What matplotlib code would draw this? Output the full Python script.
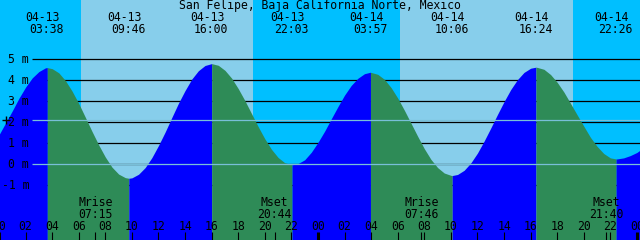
import matplotlib
matplotlib.use("Agg")
import matplotlib.pyplot as plt
import numpy as np

# marée San Felipe, 13-14 avril : hauteur (m) relevée toutes les 30 min
# depuis 04-13 00:00
heures = list(np.arange(0, 49, 0.5))
hauteurs = [1.41, 1.98, 2.55, 3.15, 3.68, 4.12, 4.42, 4.60, 4.56, 4.36,
            3.99, 3.49, 2.90, 2.24, 1.57, 0.93, 0.35, -0.13, -0.46, -0.63,
            -0.64, -0.47, -0.15, 0.32, 0.90, 1.54, 2.23, 2.91, 3.52, 4.06,
            4.46, 4.71, 4.80, 4.72, 4.48, 4.11, 3.61, 3.04, 2.42, 1.80,
            1.22, 0.72, 0.33, 0.08, -0.01, 0.04, 0.22, 0.58, 1.05, 1.58,
            2.17, 2.75, 3.30, 3.76, 4.10, 4.32, 4.38, 4.29, 4.05, 3.66,
            3.16, 2.58, 1.96, 1.34, 0.75, 0.24, -0.15, -0.41, -0.52, -0.48,
            -0.28, 0.07, 0.54, 1.11, 1.73, 2.37, 2.99, 3.56, 4.03, 4.38,
            4.58, 4.62, 4.53, 4.28, 3.91, 3.45, 2.91, 2.36, 1.82, 1.29,
            0.86, 0.52, 0.31, 0.26, 0.31, 0.42, 0.57, 0.80]

# pleines et basses mers
ext_t = [3.633, 9.767, 16.0, 22.05, 27.95, 34.1, 40.4, 46.433]
ext_h = [4.61, -0.66, 4.80, -0.02, 4.39, -0.53, 4.63, 0.26]
ext_dates = ["04-13", "04-13", "04-13", "04-13", "04-14", "04-14", "04-14", "04-14"]
ext_heures = ["03:38", "09:46", "16:00", "22:03", "03:57", "10:06", "16:24", "22:26"]

# lune
lune_t = [7.25, 20.733, 31.767, 45.667]
lune_nom = ["Mrise", "Mset", "Mrise", "Mset"]
lune_heures = ["07:15", "20:44", "07:46", "21:40"]

# lever / coucher du soleil
soleil = [6.167, 19.117, 30.183, 43.183]

niveau_moyen = 2.1
titre = "San Felipe, Baja California Norte, Mexico"

NUIT = "#00BFFF"
JOUR = "#87CEEB"
MONTE = "#0000FF"
DESCEND = "#2E8B57"
CLAIR = "#79bfd8"

x0, x1 = 0.075, 48.23
y0, y1 = -3.6, 7.83

fig = plt.figure(figsize=(6.4, 2.4), dpi=100)
ax = fig.add_axes([0, 0, 1, 1])
ax.set_xlim(x0, x1)
ax.set_ylim(y0, y1)
ax.axis("off")

# fond jour / nuit
bornes = [x0] + soleil + [x1]
for i in range(len(bornes) - 1):
    ax.axvspan(bornes[i], bornes[i + 1], color=NUIT if i % 2 == 0 else JOUR,
               lw=0, zorder=0)

# lignes des metres
ytr = ax.get_yaxis_transform()
for m in range(-1, 6):
    ax.hlines(m, 32 / 640, 1, transform=ytr, color="black", lw=0.9, zorder=1)
    ax.text(29 / 640, m - 0.19, "%d m" % m, transform=ytr, ha="right",
            va="baseline", family="DejaVu Sans Mono", fontsize=8.3, zorder=5)

# courbe de marée : on fusionne les relevés et les extrêmes
t_all = np.array(heures + ext_t, dtype=float)
h_all = np.array(hauteurs + ext_h, dtype=float)
t_all, idx = np.unique(t_all, return_index=True)
h_all = h_all[idx]

coupes = [0] + [int(np.where(t_all == t)[0][0]) for t in ext_t] + [len(t_all) - 1]
for a, b in zip(coupes[:-1], coupes[1:]):
    ts = t_all[a:b + 1]
    hs = h_all[a:b + 1]
    c = MONTE if hs[-1] > hs[0] else DESCEND
    ax.fill_between(ts, hs, y0, color=c, lw=0, antialiased=False, zorder=2)

# niveau zéro et niveau moyen
ax.hlines([0, niveau_moyen], 32 / 640, 1, transform=ytr, color=CLAIR, lw=0.9, zorder=3)
ax.plot([6 / 640], [niveau_moyen], transform=ytr, marker="+", ms=6, mew=1.0,
        color="black", clip_on=False, zorder=6)

xtr = ax.get_xaxis_transform()
police = dict(family="DejaVu Sans Mono", fontsize=8.3, zorder=5)

ax.text(0.5, 1 - 9 / 240, titre, transform=ax.transAxes, ha="center",
        va="baseline", **police)

for t, d, h in zip(ext_t, ext_dates, ext_heures):
    ax.annotate(d, (t, 1 - 20.7 / 240), xycoords=xtr, xytext=(-4.5, 0),
                textcoords="offset pixels", ha="center", va="baseline", **police)
    ax.annotate(h, (t, 1 - 33.3 / 240), xycoords=xtr, xytext=(-0.5, 0),
                textcoords="offset pixels", ha="center", va="baseline", **police)

for t, n, h in zip(lune_t, lune_nom, lune_heures):
    ax.text(t, 1 - 206 / 240, n, transform=xtr, ha="center", va="baseline", **police)
    ax.text(t, 1 - 217.7 / 240, h, transform=xtr, ha="center", va="baseline", **police)
    ax.vlines(t, 0, 8 / 240, transform=xtr, color="black", lw=0.8, zorder=5)

# graduations horaires
for t in range(0, 49, 2):
    ax.text(t, 1 - 230 / 240, "%02d" % (t % 24), transform=xtr, ha="center",
            va="baseline", **police)
    ax.vlines(t, 0, 8 / 240, transform=xtr, color="black",
              lw=2.2 if t % 24 == 0 else 0.8, zorder=5)

fig.savefig("out.png", dpi=100)
